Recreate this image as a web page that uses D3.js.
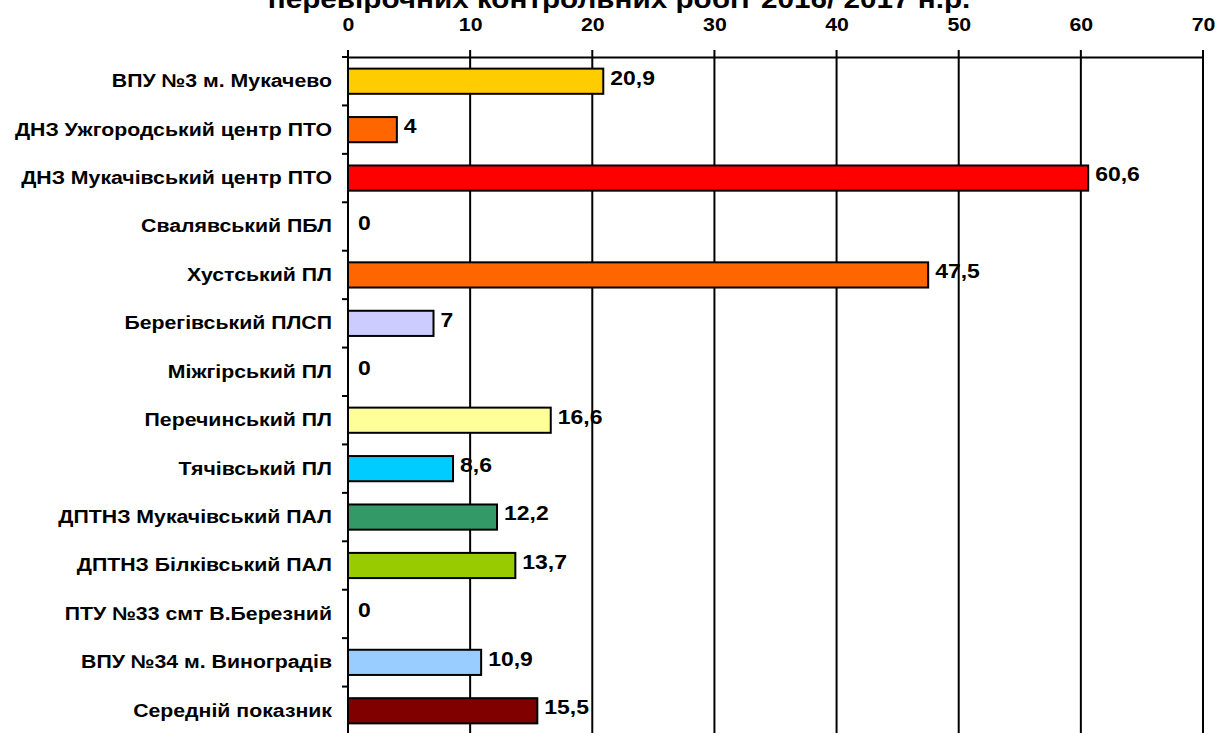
<!DOCTYPE html>
<html><head><meta charset="utf-8">
<script src="https://cdn.jsdelivr.net/npm/d3@7"></script>
<style>html,body{margin:0;padding:0;background:#fff;overflow:hidden}</style>
</head><body>
<svg id="chart" width="1219" height="733"></svg>
<script>
const categories = ["ВПУ №3 м. Мукачево","ДНЗ Ужгородський центр ПТО","ДНЗ Мукачівський центр ПТО","Свалявський ПБЛ","Хустський ПЛ","Берегівський ПЛСП","Міжгірський ПЛ","Перечинський ПЛ","Тячівський ПЛ","ДПТНЗ Мукачівський ПАЛ","ДПТНЗ Білківський ПАЛ","ПТУ №33 смт В.Березний","ВПУ №34 м. Виноградів","Середній показник"];
const values = [20.9,4,60.6,0,47.5,7,0,16.6,8.6,12.2,13.7,0,10.9,15.5];
const valueLabels = ["20,9","4","60,6","0","47,5","7","0","16,6","8,6","12,2","13,7","0","10,9","15,5"];
const colors = ["#FFCC00","#FF6600","#FF0000","#FFFFFF","#FF6600","#CCCCFF","#FFFFFF","#FFFF99","#00CCFF","#339966","#99CC00","#FFFFFF","#99CCFF","#800000"];
const tickValues = [0,10,20,30,40,50,60,70];
const titleText = "перевірочних контрольних робіт 2016/ 2017 н.р.";

const svg = d3.select("#chart");
const font = "'Liberation Sans', Arial, sans-serif";
const mLeft = 348, mRight = 1203, mTop = 57, mBottom = 735;
const sx = 1.12; // horizontal text stretch of the reference

const x = d3.scaleLinear().domain([0,70]).range([mLeft,mRight]);
const y = d3.scaleBand().domain(categories).range([mTop,mBottom]).paddingInner(0.48).paddingOuter(0.24);
const yb = d3.scaleBand().domain(categories).range([mTop,mBottom]);

// title (partially cut off at the top, as in the reference)
svg.append("text").attr("transform",`translate(619,7.5) scale(${sx},1)`).attr("text-anchor","middle")
  .attr("font-family",font).attr("font-weight","bold").attr("font-size",26.5)
  .text(titleText);

// gridlines
svg.append("g").selectAll("line").data(tickValues).join("line")
  .attr("x1",d=>x(d)).attr("x2",d=>x(d)).attr("y1",mTop-7).attr("y2",mBottom)
  .attr("stroke","#000").attr("stroke-width",2);

// top axis
const ax = svg.append("g").attr("transform",`translate(0,${mTop})`)
  .call(d3.axisTop(x).tickValues(tickValues).tickSize(0).tickPadding(26).tickFormat(d3.format("d")));
ax.select(".domain").attr("stroke","#000").attr("stroke-width",2);
ax.selectAll("text").attr("font-family",font).attr("font-weight","bold").attr("font-size",19)
  .attr("fill","#000").attr("y",-26).attr("dy",0).attr("transform",`scale(${sx},1)`);

// left axis
const sxc = 1.15;
const ay = svg.append("g").attr("transform",`translate(${mLeft},0)`)
  .call(d3.axisLeft(yb).tickSize(0).tickPadding(15));
ay.select(".domain").remove();
ay.selectAll("text").attr("font-family",font).attr("font-weight","bold").attr("font-size",18.5)
  .attr("fill","#000").attr("x",-16/sxc).attr("transform",`scale(${sxc},1)`);
svg.append("line").attr("x1",mLeft).attr("x2",mLeft).attr("y1",mTop-7).attr("y2",mBottom)
  .attr("stroke","#000").attr("stroke-width",2);
// category separator ticks
svg.append("g").selectAll("line").data(categories).join("line")
  .attr("x1",mLeft-6).attr("x2",mLeft).attr("y1",d=>yb(d)).attr("y2",d=>yb(d))
  .attr("stroke","#000").attr("stroke-width",2);

// bars
const rows = values.map((v,i)=>({v,i,c:categories[i]}));
svg.append("g").selectAll("rect")
  .data(rows.filter(d=>d.v>0)).join("rect")
  .attr("x",x(0)).attr("y",d=>y(d.c))
  .attr("width",d=>x(d.v)-x(0)).attr("height",y.bandwidth())
  .attr("fill",d=>colors[d.i]).attr("stroke","#000").attr("stroke-width",2);

// value labels
svg.append("g").selectAll("text").data(rows).join("text")
  .attr("transform",d=>`translate(${x(d.v)+(d.v===0?10:7)},${y(d.c)+y.bandwidth()/2-4}) scale(${sx},1)`)
  .attr("dy","0.36em")
  .attr("font-family",font).attr("font-weight","bold").attr("font-size",20.5).attr("fill","#000")
  .text(d=>valueLabels[d.i]);
</script>
</body></html>
